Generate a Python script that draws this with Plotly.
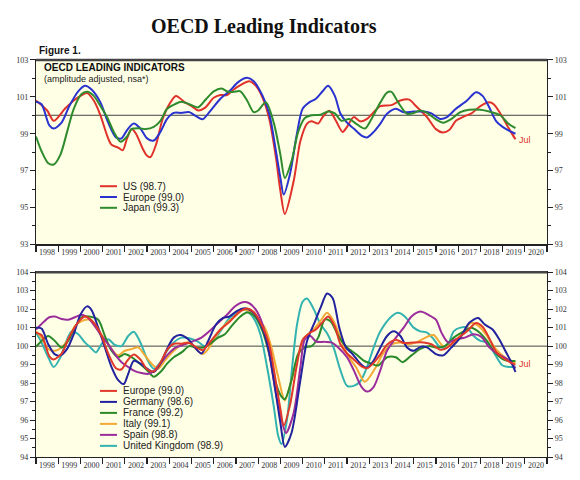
import plotly.graph_objects as go

W, H = 580, 480

# ---------------- data: top panel ----------------
top_names = ["US (98.7)", "Europe (99.0)", "Japan (99.3)"]
top_colors = ["#E0312B", "#2B33CF", "#2E8B2E"]

us_x = [1998.0,1998.5,1998.8,1999.3,1999.7,2000.0,2000.3,2000.6,2000.9,2001.2,2001.4,2001.7,2001.9,2002.1,2002.3,2002.5,2002.8,2003.0,2003.15,2003.4,2003.7,2004.0,2004.3,2004.7,2005.0,2005.3,2005.6,2006.0,2006.3,2006.6,2006.9,2007.3,2007.6,2007.9,2008.2,2008.5,2008.8,2009.0,2009.2,2009.6,2009.9,2010.2,2010.4,2010.7,2010.9,2011.2,2011.5,2011.8,2012.0,2012.3,2012.6,2012.9,2013.2,2013.5,2014.0,2014.4,2014.8,2015.1,2015.6,2016.0,2016.3,2016.6,2016.9,2017.3,2017.6,2018.0,2018.4,2018.6,2018.9,2019.2,2019.45,2019.58]
us_y = [100.8,100.26,99.7,100.35,100.8,101.05,101.2,100.8,100.0,98.9,98.4,98.25,98.1,98.75,99.25,99.0,98.2,97.8,97.73,98.4,99.8,100.6,101.05,100.7,100.5,100.26,100.4,100.95,101.1,101.1,101.4,101.7,101.85,101.6,100.95,99.8,97.7,95.9,94.65,96.45,98.6,99.55,99.67,99.55,99.9,100.25,99.7,99.1,99.37,99.9,99.67,99.8,100.17,100.5,100.55,100.8,100.85,100.5,99.9,99.25,99.07,99.2,99.7,99.95,100.1,100.5,100.7,100.6,100.1,99.46,98.95,98.7]

eu_x = [1998.0,1998.25,1998.6,1998.8,1999.15,1999.5,1999.9,2000.2,2000.5,2000.9,2001.25,2001.6,2001.85,2002.1,2002.4,2002.7,2003.0,2003.3,2003.6,2003.9,2004.2,2004.55,2004.9,2005.2,2005.5,2005.8,2006.3,2006.7,2007.1,2007.5,2007.8,2008.2,2008.5,2008.8,2009.0,2009.15,2009.43,2009.73,2010.0,2010.3,2010.6,2010.9,2011.15,2011.45,2011.7,2012.0,2012.3,2012.65,2012.9,2013.2,2013.5,2013.8,2014.2,2014.55,2015.0,2015.45,2015.8,2016.2,2016.5,2016.9,2017.4,2017.8,2018.1,2018.4,2018.7,2019.0,2019.33,2019.58]
eu_y = [100.73,100.6,99.45,99.28,99.6,100.5,101.3,101.6,101.4,100.7,99.6,98.8,98.75,99.2,99.55,99.28,98.75,98.63,99.1,99.8,100.13,100.13,100.17,99.95,99.78,100.17,100.9,101.3,101.8,102.03,101.85,101.05,100.08,98.05,96.6,95.7,96.8,98.9,100.35,100.7,100.9,101.3,101.6,101.05,100.1,99.6,99.28,98.9,98.8,99.1,99.55,100.08,100.35,100.17,100.2,100.2,100.1,99.8,99.9,100.35,100.8,101.25,101.05,100.43,99.7,99.37,99.14,99.0]

jp_x = [1998.0,1998.25,1998.55,1998.8,1999.1,1999.4,1999.7,2000.05,2000.3,2000.6,2000.9,2001.2,2001.5,2001.8,2002.1,2002.3,2002.6,2002.95,2003.3,2003.6,2003.9,2004.25,2004.55,2004.9,2005.3,2005.65,2006.0,2006.35,2006.65,2006.9,2007.2,2007.5,2007.8,2008.0,2008.35,2008.7,2009.0,2009.2,2009.5,2009.8,2010.1,2010.4,2010.8,2011.15,2011.45,2011.75,2012.1,2012.4,2012.8,2013.1,2013.5,2013.8,2014.0,2014.3,2014.7,2015.0,2015.3,2015.6,2016.0,2016.33,2016.7,2017.1,2017.5,2018.0,2018.4,2018.9,2019.25,2019.58]
jp_y = [98.85,98.05,97.4,97.33,97.87,99.1,100.35,101.15,101.27,101.05,100.5,99.9,99.1,98.57,98.85,99.25,99.3,99.25,99.37,99.7,100.35,100.6,100.73,100.6,100.43,100.87,101.3,101.45,101.27,101.27,101.3,100.8,100.17,100.26,100.7,99.6,97.87,96.6,97.5,99.1,99.85,100.0,100.03,100.2,100.1,99.7,99.8,99.55,99.28,99.8,100.7,101.23,101.27,100.7,100.08,100.12,100.26,100.13,99.78,99.6,99.8,100.17,100.3,100.3,100.2,100.0,99.55,99.3]

# ---------------- data: bottom panel ----------------
bot_names = ["Europe (99.0)", "Germany (98.6)", "France (99.2)", "Italy (99.1)", "Spain (98.8)", "United Kingdom (98.9)"]
bot_colors = ["#E0392B", "#22229E", "#2A8A2A", "#F2A935", "#9B2C9B", "#33B3B0"]

de_x = [1998.0,1998.25,1998.55,1998.85,1999.1,1999.4,1999.7,2000.0,2000.3,2000.5,2000.8,2001.1,2001.4,2001.7,2001.95,2002.15,2002.4,2002.7,2003.0,2003.3,2003.6,2003.9,2004.2,2004.5,2004.85,2005.15,2005.45,2005.75,2006.1,2006.4,2006.7,2007.0,2007.4,2007.8,2008.15,2008.45,2008.75,2009.0,2009.2,2009.5,2009.9,2010.2,2010.5,2010.8,2011.1,2011.35,2011.65,2011.95,2012.25,2012.6,2012.9,2013.2,2013.5,2013.8,2014.1,2014.4,2014.7,2015.0,2015.3,2015.6,2016.0,2016.33,2016.7,2017.1,2017.5,2017.9,2018.2,2018.55,2018.85,2019.2,2019.4,2019.58]
de_y = [101.0,100.95,100.1,99.55,99.5,99.85,100.65,101.7,102.15,101.95,101.0,99.93,98.87,98.16,97.95,98.5,99.2,99.05,98.78,98.6,99.05,99.85,100.46,100.6,100.37,99.93,99.6,100.28,101.17,101.52,101.6,101.87,102.05,101.8,101.08,99.93,97.8,95.85,94.55,95.3,98.16,100.28,101.17,102.05,102.85,102.6,101.0,99.93,99.57,99.05,98.83,99.22,99.93,100.55,100.8,100.55,99.93,99.75,99.96,99.93,99.57,99.5,99.93,100.46,101.26,101.52,101.17,100.9,100.37,99.57,99.13,98.6]

fr_x = [1998.0,1998.25,1998.55,1998.85,1999.15,1999.45,1999.75,2000.1,2000.4,2000.8,2001.1,2001.4,2001.7,2002.0,2002.3,2002.6,2003.0,2003.3,2003.6,2003.9,2004.2,2004.55,2004.9,2005.2,2005.5,2005.8,2006.2,2006.5,2006.8,2007.2,2007.5,2007.85,2008.2,2008.5,2008.8,2009.05,2009.2,2009.5,2009.8,2010.1,2010.4,2010.7,2011.0,2011.25,2011.65,2012.0,2012.4,2012.75,2013.1,2013.4,2013.8,2014.2,2014.5,2014.9,2015.3,2015.7,2016.0,2016.4,2016.8,2017.25,2017.6,2018.0,2018.3,2018.65,2019.0,2019.3,2019.58]
fr_y = [99.96,100.28,100.55,100.28,99.93,100.28,101.0,101.6,101.6,101.43,100.55,99.75,99.4,99.57,99.4,99.13,98.7,98.34,98.6,99.05,99.4,99.66,100.0,99.93,99.93,100.1,100.46,100.64,101.08,101.6,101.82,101.6,100.8,99.57,97.98,97.27,97.13,98.16,99.57,99.93,100.0,100.46,101.43,101.35,100.46,99.93,99.57,99.22,99.05,98.95,99.4,99.4,99.13,99.5,99.85,100.0,99.93,100.0,100.46,100.8,101.0,100.7,100.28,99.66,99.3,99.2,99.2]

it_x = [1998.0,1998.25,1998.55,1998.85,1999.15,1999.45,1999.75,2000.1,2000.4,2000.7,2001.1,2001.4,2001.7,2002.0,2002.3,2002.6,2002.9,2003.2,2003.5,2003.8,2004.2,2004.55,2004.9,2005.2,2005.5,2005.8,2006.2,2006.6,2006.95,2007.3,2007.6,2008.0,2008.3,2008.6,2008.9,2009.2,2009.5,2009.8,2010.1,2010.5,2010.8,2011.1,2011.4,2011.7,2012.0,2012.4,2012.8,2013.3,2013.6,2014.0,2014.4,2014.75,2015.1,2015.6,2015.9,2016.33,2016.7,2017.15,2017.6,2018.0,2018.35,2018.7,2019.1,2019.58]
it_y = [100.8,100.46,99.84,99.75,99.93,100.37,101.08,101.38,101.43,101.0,100.37,99.84,99.5,99.75,99.84,99.93,99.5,99.05,98.78,99.22,99.75,100.1,100.2,99.84,99.57,99.93,100.73,101.26,101.6,101.96,101.9,101.43,101.0,99.93,98.34,97.06,98.16,99.57,100.46,100.9,101.35,101.8,101.35,100.46,99.57,98.87,98.07,98.87,99.57,100.1,100.2,100.1,100.2,100.5,100.6,100.0,100.1,100.64,101.26,101.0,100.46,99.84,99.4,99.1]

es_x = [1998.0,1998.25,1998.6,1998.85,1999.15,1999.45,1999.75,2000.05,2000.35,2000.65,2000.95,2001.25,2001.55,2001.85,2002.15,2002.45,2002.75,2003.05,2003.35,2003.65,2003.95,2004.3,2004.7,2005.1,2005.45,2005.8,2006.2,2006.6,2006.95,2007.3,2007.6,2007.9,2008.2,2008.5,2008.8,2009.05,2009.25,2009.6,2009.9,2010.1,2010.35,2010.6,2011.0,2011.3,2011.6,2012.0,2012.3,2012.65,2012.9,2013.2,2013.5,2013.8,2014.2,2014.55,2014.9,2015.3,2015.65,2016.0,2016.25,2016.55,2016.9,2017.3,2017.7,2018.05,2018.4,2018.8,2019.2,2019.58]
es_y = [100.9,101.2,101.56,101.6,101.47,101.43,101.56,101.7,101.52,101.08,100.55,100.1,99.57,99.13,98.87,98.65,98.55,98.5,98.7,99.13,99.57,99.93,100.1,100.28,100.46,100.8,101.26,101.7,102.14,102.37,102.32,101.96,101.17,99.57,97.45,96.04,95.3,96.4,98.87,100.37,100.55,100.25,100.23,100.2,99.93,99.4,98.7,97.8,97.54,97.8,98.7,99.75,100.46,101.0,101.6,101.87,101.7,101.43,100.73,100.2,100.37,100.46,100.64,100.5,99.93,99.57,99.3,98.8]

uk_x = [1998.0,1998.25,1998.55,1998.8,1999.1,1999.4,1999.6,1999.9,2000.2,2000.45,2000.7,2001.0,2001.25,2001.55,2001.85,2002.15,2002.4,2002.7,2003.0,2003.3,2003.6,2003.9,2004.2,2004.55,2004.9,2005.3,2005.6,2005.9,2006.3,2006.65,2007.0,2007.4,2007.8,2008.1,2008.4,2008.7,2008.9,2009.05,2009.3,2009.5,2009.75,2010.0,2010.2,2010.5,2010.8,2011.1,2011.4,2011.7,2012.0,2012.3,2012.6,2012.9,2013.2,2013.5,2014.0,2014.3,2014.6,2015.0,2015.3,2015.6,2015.9,2016.2,2016.5,2016.8,2017.1,2017.4,2017.7,2018.0,2018.3,2018.65,2019.0,2019.3,2019.58]
uk_y = [100.73,100.2,99.4,98.87,99.4,100.37,100.8,100.64,100.2,99.93,99.66,100.2,100.37,100.07,100.0,100.55,100.78,100.2,99.3,98.78,99.13,99.75,100.2,100.46,100.43,100.23,100.0,100.2,100.8,101.43,101.8,101.96,101.5,100.64,98.87,96.75,95.15,94.7,96.04,98.5,101.17,102.4,102.58,102.0,101.2,100.7,99.9,98.7,97.85,97.85,98.1,98.87,99.93,100.8,101.6,101.8,101.6,101.0,100.8,100.73,100.37,99.93,100.0,100.8,101.0,101.0,100.55,100.28,100.2,99.57,98.95,98.87,98.9]

year_labels = [str(y) for y in range(1998, 2021)]

top_series = [(us_x, us_y), (eu_x, eu_y), (jp_x, jp_y)]
bot_series = [(eu_x, eu_y), (de_x, de_y), (fr_x, fr_y), (it_x, it_y), (es_x, es_y), (uk_x, uk_y)]

fig = go.Figure()

for (xs, ys), c, n in zip(top_series, top_colors, top_names):
    fig.add_trace(go.Scatter(x=xs, y=ys, mode="lines", line=dict(color=c, width=2, shape="spline", smoothing=0.8),
                             name=n, showlegend=False, xaxis="x", yaxis="y", hoverinfo="skip"))
order = [5, 3, 2, 4, 1, 0]
for i in order:
    xs, ys = bot_series[i]
    fig.add_trace(go.Scatter(x=xs, y=ys, mode="lines", line=dict(color=bot_colors[i], width=2, shape="spline", smoothing=0.8),
                             name=bot_names[i], showlegend=False, xaxis="x2", yaxis="y3", hoverinfo="skip"))
# invisible anchors for the right-hand axes
fig.add_trace(go.Scatter(x=us_x[:1], y=us_y[:1], mode="markers", opacity=0, showlegend=False,
                         xaxis="x", yaxis="y2", hoverinfo="skip"))
fig.add_trace(go.Scatter(x=de_x[:1], y=de_y[:1], mode="markers", opacity=0, showlegend=False,
                         xaxis="x2", yaxis="y4", hoverinfo="skip"))

xdom = [36 / W, 547 / W]
top_dom = [1 - 245 / H, 1 - 57 / H]
bot_dom = [1 - 461.7 / H, 1 - 273.3 / H]

tickfont = dict(family="Liberation Serif", size=8, color="#333")

def xax(anchor):
    return dict(domain=xdom, anchor=anchor, range=[1998, 2021], showgrid=False, zeroline=False,
                tickmode="array", tickvals=[y + 0.5 for y in range(1998, 2021)], ticktext=year_labels,
                ticks="", tickfont=tickfont, showline=True, linecolor="#222", linewidth=1.2, mirror=True,
                minor=dict(tickmode="array", tickvals=list(range(1998, 2022)), ticks="outside",
                           ticklen=6, tickcolor="#222", tickwidth=1.2, showgrid=False),
                fixedrange=True)

def yax(dom, anchor, rng, major, minor_v, side="left", overlay=None):
    d = dict(domain=dom, anchor=anchor, range=rng, side=side, showgrid=False, zeroline=False,
             tickmode="array", tickvals=major, ticks="outside", ticklen=5, tickcolor="#222",
             tickwidth=1, tickfont=tickfont, showline=True, linecolor="#222", linewidth=1.2,
             minor=dict(tickmode="array", tickvals=minor_v, ticks="outside", ticklen=3,
                        tickcolor="#222", showgrid=False), fixedrange=True)
    if overlay:
        d["overlaying"] = overlay
    return d

top_major = [93, 95, 97, 99, 101, 103]
top_minor = [94, 96, 98, 100, 102]
bot_major = list(range(94, 105))
bot_minor = [v + 0.5 for v in range(94, 104)]

fig.update_layout(
    width=W, height=H, margin=dict(l=0, r=0, t=0, b=0),
    paper_bgcolor="white", plot_bgcolor="#FFFFE6",
    xaxis=xax("y"),
    xaxis2=xax("y3"),
    yaxis=yax(top_dom, "x", [93, 103], top_major, top_minor),
    yaxis2=yax(top_dom, "x", [93, 103], top_major, top_minor, side="right", overlay="y"),
    yaxis3=yax(bot_dom, "x2", [94, 104], bot_major, bot_minor),
    yaxis4=yax(bot_dom, "x2", [94, 104], bot_major, bot_minor, side="right", overlay="y3"),
)

shapes = []
shapes.append(dict(type="line", xref="x domain", yref="y", x0=0, x1=1, y0=100, y1=100,
                   line=dict(color="#444", width=1), layer="below"))
shapes.append(dict(type="line", xref="x2 domain", yref="y3", x0=0, x1=1, y0=100, y1=100,
                   line=dict(color="#444", width=1), layer="below"))
for yref in ["y", "y3"]:
    shapes.append(dict(type="line", xref="paper", yref=yref + " domain", x0=xdom[0], x1=xdom[1], y0=1, y1=1,
                       line=dict(color="#444", width=2.5)))

annotations = []
lab_font = dict(family="Liberation Sans", size=10, color="#222")

for i, (n, c) in enumerate(zip(top_names, top_colors)):
    yp = 1 - (185.7 + 11 * i) / H
    shapes.append(dict(type="line", xref="paper", yref="paper", x0=100 / W, x1=117 / W, y0=yp, y1=yp,
                       line=dict(color=c, width=2)))
    annotations.append(dict(xref="paper", yref="paper", x=121 / W, y=yp, text=n, showarrow=False,
                            xanchor="left", yanchor="middle", font=lab_font))
for i, (n, c) in enumerate(zip(bot_names, bot_colors)):
    yp = 1 - (394.3 + 11.2 * i) / H
    shapes.append(dict(type="line", xref="paper", yref="paper", x0=100 / W, x1=117 / W, y0=yp, y1=yp,
                       line=dict(color=c, width=2)))
    annotations.append(dict(xref="paper", yref="paper", x=121 / W, y=yp, text=n, showarrow=False,
                            xanchor="left", yanchor="middle", font=lab_font))

annotations += [
    dict(xref="paper", yref="paper", x=263.5 / W, y=1 - 23 / H, text="<b>OECD Leading Indicators</b>",
         showarrow=False, xanchor="center", yanchor="middle",
         font=dict(family="Liberation Serif", size=20, color="#111")),
    dict(xref="paper", yref="paper", x=37 / W, y=1 - 47 / H, text="<b>Figure 1.</b>", showarrow=False,
         xanchor="left", yanchor="middle", font=dict(family="Liberation Sans", size=10, color="#111")),
    dict(xref="paper", yref="paper", x=42 / W, y=1 - 65 / H, text="<b>OECD LEADING INDICATORS</b>",
         showarrow=False, xanchor="left", yanchor="middle", font=dict(family="Liberation Sans", size=10, color="#111")),
    dict(xref="paper", yref="paper", x=42 / W, y=1 - 76 / H, text="(amplitude adjusted, nsa*)",
         showarrow=False, xanchor="left", yanchor="middle", font=dict(family="Liberation Sans", size=9, color="#222")),
    dict(xref="paper", yref="paper", x=517 / W, y=1 - 139 / H, text="Jul", showarrow=False,
         xanchor="left", yanchor="middle", font=dict(family="Liberation Sans", size=9, color="#E0312B")),
    dict(xref="paper", yref="paper", x=517 / W, y=1 - 367 / H, text="Jul", showarrow=False,
         xanchor="left", yanchor="middle", font=dict(family="Liberation Sans", size=9, color="#E0312B")),
]

fig.update_layout(shapes=shapes, annotations=annotations)
fig.write_html("out.html", config={"displayModeBar": False, "staticPlot": True},
               post_script="document.body.style.margin='0';document.body.style.padding='0';")
